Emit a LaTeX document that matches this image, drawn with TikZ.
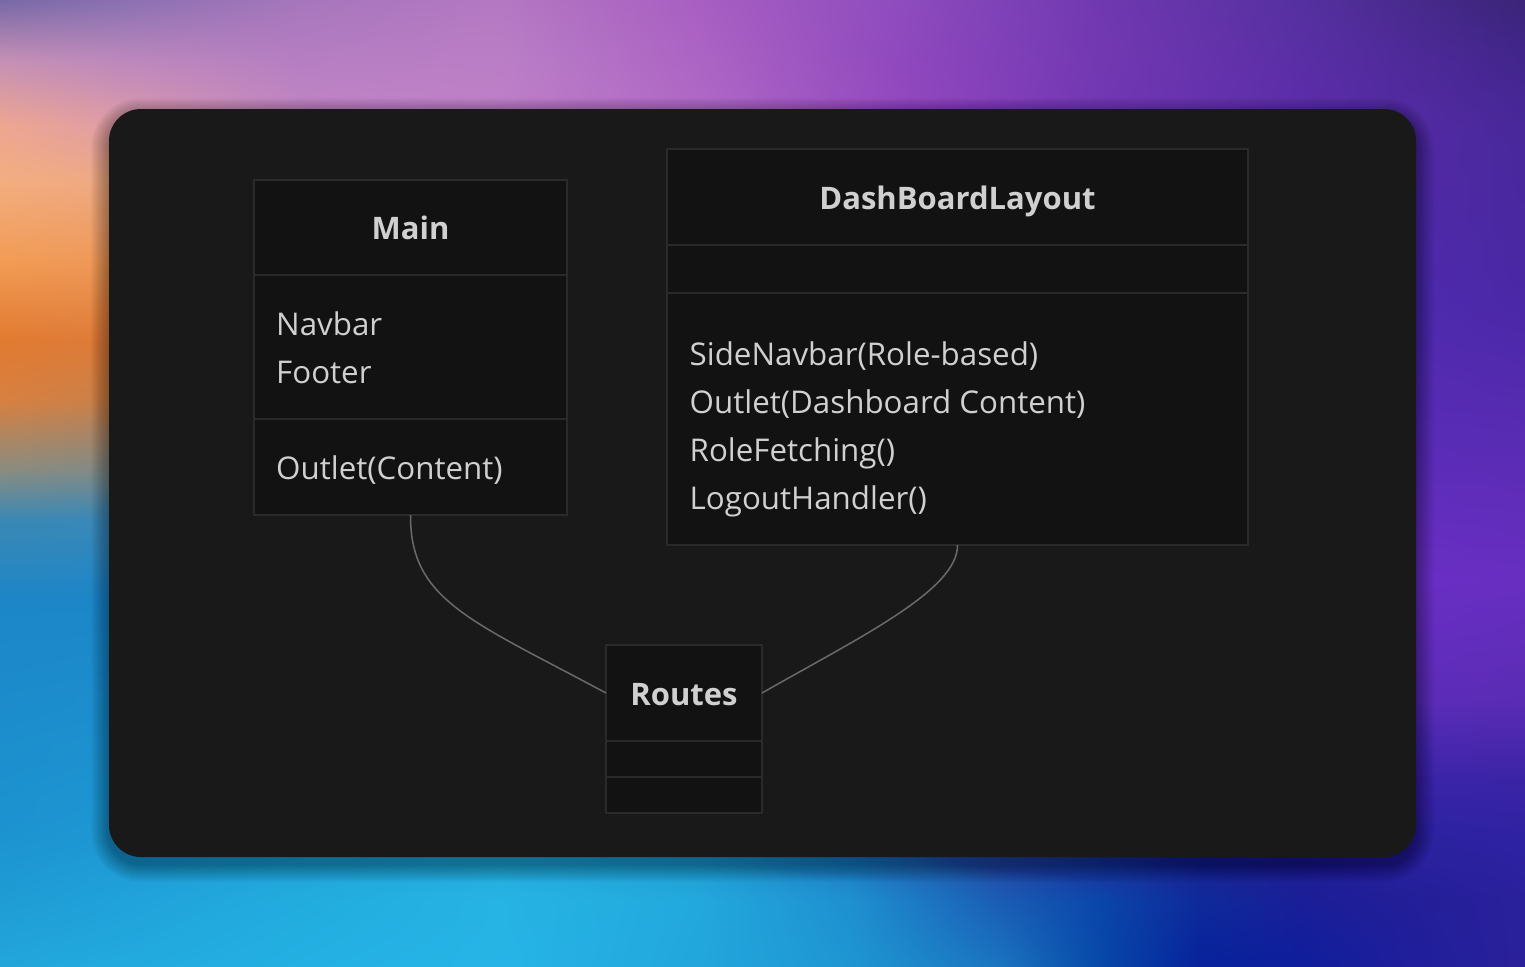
\documentclass[tikz,border=0pt]{standalone}
\usepackage{fontspec}
\setmainfont{Open Sans}
\usetikzlibrary{shadings}
\definecolor{cardbg}{HTML}{191919}
\definecolor{boxbg}{HTML}{121212}
\definecolor{boxline}{HTML}{2A2A2A}
\definecolor{txt}{HTML}{D0D0D0}
\definecolor{conn}{HTML}{6A6A6A}
% top strip colours (columns A..I, rows 0..2)
\definecolor{tA0}{HTML}{7868A6}\definecolor{tA1}{HTML}{C490B4}\definecolor{tA2}{HTML}{EEA690}
\definecolor{tB0}{HTML}{8A70B2}\definecolor{tB1}{HTML}{BC88BC}\definecolor{tB2}{HTML}{DE9CA8}
\definecolor{tC0}{HTML}{A676BC}\definecolor{tC1}{HTML}{B67EC2}\definecolor{tC2}{HTML}{C288C4}
\definecolor{tD0}{HTML}{B478C2}\definecolor{tD1}{HTML}{BA7EC6}\definecolor{tD2}{HTML}{C080C8}
\definecolor{tE0}{HTML}{A85EC2}\definecolor{tE1}{HTML}{AC64C4}\definecolor{tE2}{HTML}{B06AC6}
\definecolor{tF0}{HTML}{8E4CBE}\definecolor{tF1}{HTML}{9048BE}\definecolor{tF2}{HTML}{9448C0}
\definecolor{tG0}{HTML}{7038B0}\definecolor{tG1}{HTML}{7238B2}\definecolor{tG2}{HTML}{7236B4}
\definecolor{tH0}{HTML}{5530A0}\definecolor{tH1}{HTML}{5A2EA6}\definecolor{tH2}{HTML}{5C2CAA}
\definecolor{tI0}{HTML}{3A2478}\definecolor{tI1}{HTML}{42258C}\definecolor{tI2}{HTML}{48289A}
% left column colours (rows 0..8, a: x=0, b: x=125)
\definecolor{l0a}{HTML}{EEA690}\definecolor{l0b}{HTML}{DE9CA8}
\definecolor{l1a}{HTML}{F2AE80}\definecolor{l1b}{HTML}{EEA884}
\definecolor{l2a}{HTML}{F29C55}\definecolor{l2b}{HTML}{EE985A}
\definecolor{l3a}{HTML}{E27A30}\definecolor{l3b}{HTML}{DC7C3A}
\definecolor{l4a}{HTML}{D88040}\definecolor{l4b}{HTML}{C8804A}
\definecolor{l5a}{HTML}{8A8C80}\definecolor{l5b}{HTML}{7E8A88}
\definecolor{l6a}{HTML}{3A88B4}\definecolor{l6b}{HTML}{3A88B8}
\definecolor{l7a}{HTML}{1C86C8}\definecolor{l7b}{HTML}{1C86C8}
\definecolor{l8a}{HTML}{1C94D0}\definecolor{l8b}{HTML}{1E98D4}
% right column colours (rows 0..6, a: x=1400, b: x=1525)
\definecolor{r0a}{HTML}{532AA3}\definecolor{r0b}{HTML}{48289A}
\definecolor{r1a}{HTML}{4E2AAE}\definecolor{r1b}{HTML}{4A28A6}
\definecolor{r2a}{HTML}{5A2CB8}\definecolor{r2b}{HTML}{5A2CB4}
\definecolor{r3a}{HTML}{6A2EC6}\definecolor{r3b}{HTML}{682EC0}
\definecolor{r4a}{HTML}{5C2CBA}\definecolor{r4b}{HTML}{5A2CB4}
\definecolor{r5a}{HTML}{3A24A8}\definecolor{r5b}{HTML}{3A24A6}
\definecolor{r6a}{HTML}{2A22A0}\definecolor{r6b}{HTML}{2E22A2}
% bottom strip colours (columns A..L, rows 0..2)
\definecolor{bA0}{HTML}{1C94D0}\definecolor{bA1}{HTML}{1F9CD4}\definecolor{bA2}{HTML}{22A6DA}
\definecolor{bB0}{HTML}{1E98D4}\definecolor{bB1}{HTML}{20A2DA}\definecolor{bB2}{HTML}{22AADE}
\definecolor{bC0}{HTML}{20A0D6}\definecolor{bC1}{HTML}{22ACDE}\definecolor{bC2}{HTML}{24B0E2}
\definecolor{bD0}{HTML}{22A6D8}\definecolor{bD1}{HTML}{26B4E4}\definecolor{bD2}{HTML}{26B4E6}
\definecolor{bE0}{HTML}{2098D0}\definecolor{bE1}{HTML}{22A8DC}\definecolor{bE2}{HTML}{22A6DC}
\definecolor{bF0}{HTML}{1E70B8}\definecolor{bF1}{HTML}{1E90D0}\definecolor{bF2}{HTML}{1E96D2}
\definecolor{bG0}{HTML}{2A3C9C}\definecolor{bG1}{HTML}{1A5CB4}\definecolor{bG2}{HTML}{1A74C0}
\definecolor{bH0}{HTML}{282696}\definecolor{bH1}{HTML}{0A46AA}\definecolor{bH2}{HTML}{0648A8}
\definecolor{bI0}{HTML}{24208E}\definecolor{bI1}{HTML}{0E2A9A}\definecolor{bI2}{HTML}{06229C}
\definecolor{bJ0}{HTML}{242090}\definecolor{bJ1}{HTML}{1A1E98}\definecolor{bJ2}{HTML}{0E1E9C}
\definecolor{bK0}{HTML}{2A22A0}\definecolor{bK1}{HTML}{221E98}\definecolor{bK2}{HTML}{1E1E9C}
\definecolor{bL0}{HTML}{2E22A2}\definecolor{bL1}{HTML}{2A209C}\definecolor{bL2}{HTML}{2A209A}
\newcommand\bgpatch[8]{\shade[upper left=#5, upper right=#6, lower left=#7, lower right=#8] (#1,#2) rectangle (#3,#4);}
\tikzset{
  boxpart/.style={draw=boxline, fill=boxbg, line width=2pt, anchor=north west,
    inner sep=0pt, outer sep=0pt},
  headtxt/.style={font=\fontsize{31}{36}\selectfont\bfseries, text=txt, anchor=base, inner sep=0pt},
  bodytxt/.style={font=\fontsize{31.3}{36}\selectfont, text=txt, anchor=base west, inner sep=0pt},
  link/.style={draw=conn, line width=1.5pt}
}
\begin{document}
\begin{tikzpicture}[x=1pt,y=-1pt]
\useasboundingbox (0,0) rectangle (1525,966);
% ---------- background ----------
\fill[r3a] (0,0) rectangle (1525,966);
% top strip
\bgpatch{0}{0}{125}{60}{tA0}{tB0}{tA1}{tB1}
\bgpatch{125}{0}{300}{60}{tB0}{tC0}{tB1}{tC1}
\bgpatch{300}{0}{500}{60}{tC0}{tD0}{tC1}{tD1}
\bgpatch{500}{0}{700}{60}{tD0}{tE0}{tD1}{tE1}
\bgpatch{700}{0}{900}{60}{tE0}{tF0}{tE1}{tF1}
\bgpatch{900}{0}{1100}{60}{tF0}{tG0}{tF1}{tG1}
\bgpatch{1100}{0}{1300}{60}{tG0}{tH0}{tG1}{tH1}
\bgpatch{1300}{0}{1525}{60}{tH0}{tI0}{tH1}{tI1}
\bgpatch{0}{60}{125}{125}{tA1}{tB1}{tA2}{tB2}
\bgpatch{125}{60}{300}{125}{tB1}{tC1}{tB2}{tC2}
\bgpatch{300}{60}{500}{125}{tC1}{tD1}{tC2}{tD2}
\bgpatch{500}{60}{700}{125}{tD1}{tE1}{tD2}{tE2}
\bgpatch{700}{60}{900}{125}{tE1}{tF1}{tE2}{tF2}
\bgpatch{900}{60}{1100}{125}{tF1}{tG1}{tF2}{tG2}
\bgpatch{1100}{60}{1300}{125}{tG1}{tH1}{tG2}{tH2}
\bgpatch{1300}{60}{1525}{125}{tH1}{tI1}{tH2}{tI2}
% left column
\bgpatch{0}{125}{125}{180}{l0a}{l0b}{l1a}{l1b}
\bgpatch{0}{180}{125}{260}{l1a}{l1b}{l2a}{l2b}
\bgpatch{0}{260}{125}{340}{l2a}{l2b}{l3a}{l3b}
\bgpatch{0}{340}{125}{400}{l3a}{l3b}{l4a}{l4b}
\bgpatch{0}{400}{125}{470}{l4a}{l4b}{l5a}{l5b}
\bgpatch{0}{470}{125}{520}{l5a}{l5b}{l6a}{l6b}
\bgpatch{0}{520}{125}{600}{l6a}{l6b}{l7a}{l7b}
\bgpatch{0}{600}{125}{840}{l7a}{l7b}{l8a}{l8b}
% right column
\bgpatch{1400}{125}{1525}{300}{r0a}{r0b}{r1a}{r1b}
\bgpatch{1400}{300}{1525}{450}{r1a}{r1b}{r2a}{r2b}
\bgpatch{1400}{450}{1525}{580}{r2a}{r2b}{r3a}{r3b}
\bgpatch{1400}{580}{1525}{700}{r3a}{r3b}{r4a}{r4b}
\bgpatch{1400}{700}{1525}{780}{r4a}{r4b}{r5a}{r5b}
\bgpatch{1400}{780}{1525}{840}{r5a}{r5b}{r6a}{r6b}
% bottom strip
\bgpatch{0}{840}{125}{900}{bA0}{bB0}{bA1}{bB1}
\bgpatch{125}{840}{300}{900}{bB0}{bC0}{bB1}{bC1}
\bgpatch{300}{840}{500}{900}{bC0}{bD0}{bC1}{bD1}
\bgpatch{500}{840}{700}{900}{bD0}{bE0}{bD1}{bE1}
\bgpatch{700}{840}{850}{900}{bE0}{bF0}{bE1}{bF1}
\bgpatch{850}{840}{1000}{900}{bF0}{bG0}{bF1}{bG1}
\bgpatch{1000}{840}{1100}{900}{bG0}{bH0}{bG1}{bH1}
\bgpatch{1100}{840}{1200}{900}{bH0}{bI0}{bH1}{bI1}
\bgpatch{1200}{840}{1300}{900}{bI0}{bJ0}{bI1}{bJ1}
\bgpatch{1300}{840}{1400}{900}{bJ0}{bK0}{bJ1}{bK1}
\bgpatch{1400}{840}{1525}{900}{bK0}{bL0}{bK1}{bL1}
\bgpatch{0}{900}{125}{966}{bA1}{bB1}{bA2}{bB2}
\bgpatch{125}{900}{300}{966}{bB1}{bC1}{bB2}{bC2}
\bgpatch{300}{900}{500}{966}{bC1}{bD1}{bC2}{bD2}
\bgpatch{500}{900}{700}{966}{bD1}{bE1}{bD2}{bE2}
\bgpatch{700}{900}{850}{966}{bE1}{bF1}{bE2}{bF2}
\bgpatch{850}{900}{1000}{966}{bF1}{bG1}{bF2}{bG2}
\bgpatch{1000}{900}{1100}{966}{bG1}{bH1}{bG2}{bH2}
\bgpatch{1100}{900}{1200}{966}{bH1}{bI1}{bH2}{bI2}
\bgpatch{1200}{900}{1300}{966}{bI1}{bJ1}{bI2}{bJ2}
\bgpatch{1300}{900}{1400}{966}{bJ1}{bK1}{bJ2}{bK2}
\bgpatch{1400}{900}{1525}{966}{bK1}{bL1}{bK2}{bL2}
% ---------- soft card shadow and card ----------
\foreach \s in {1,2,...,18}{
  \fill[black, opacity=0.018, rounded corners=32pt+\s pt] (109-\s,109-\s+7) rectangle (1416+\s,857+\s+7);
}
\fill[cardbg, rounded corners=32pt] (109,109) rectangle (1416,857);
% ---------- Main ----------
\node[boxpart, minimum width=313pt, minimum height=95pt] (main-h) at (254,180) {};
\node[boxpart, minimum width=313pt, minimum height=144pt] (main-s1) at (254,275) {};
\node[boxpart, minimum width=313pt, minimum height=96pt] (main-s2) at (254,419) {};
\node[headtxt] (main-t) at (410.5,239.5) {Main};
\node[bodytxt] (main-navbar) at (276,335) {Navbar};
\node[bodytxt] (main-footer) at (276,383) {Footer};
\node[bodytxt] (main-outlet) at (276,479) {Outlet(Content)};
% ---------- DashBoardLayout ----------
\node[boxpart, minimum width=581pt, minimum height=96pt] (dash-h) at (667,149) {};
\node[boxpart, minimum width=581pt, minimum height=48pt] (dash-s1) at (667,245) {};
\node[boxpart, minimum width=581pt, minimum height=252pt] (dash-s2) at (667,293) {};
\node[headtxt] (dash-t) at (957.5,209.5) {DashBoardLayout};
\node[bodytxt] (dash-l1) at (689.5,365.5) {SideNavbar(Role-based)};
\node[bodytxt] (dash-l2) at (689.5,413.5) {Outlet(Dashboard Content)};
\node[bodytxt] (dash-l3) at (689.5,461.5) {RoleFetching()};
\node[bodytxt] (dash-l4) at (689.5,509) {LogoutHandler()};
% ---------- Routes ----------
\node[boxpart, minimum width=156pt, minimum height=96pt] (routes-h) at (606,645) {};
\node[boxpart, minimum width=156pt, minimum height=36pt] (routes-s1) at (606,741) {};
\node[boxpart, minimum width=156pt, minimum height=36pt] (routes-s2) at (606,777) {};
\node[headtxt] (routes-t) at (684,705) {Routes};
% ---------- connectors ----------
\draw[link] (main-s2.south) .. controls (410,600) and (470,620) .. (routes-h.west);
\draw[link] (dash-s2.south) .. controls (958,590) and (860,637) .. (routes-h.east);
\end{tikzpicture}
\end{document}
